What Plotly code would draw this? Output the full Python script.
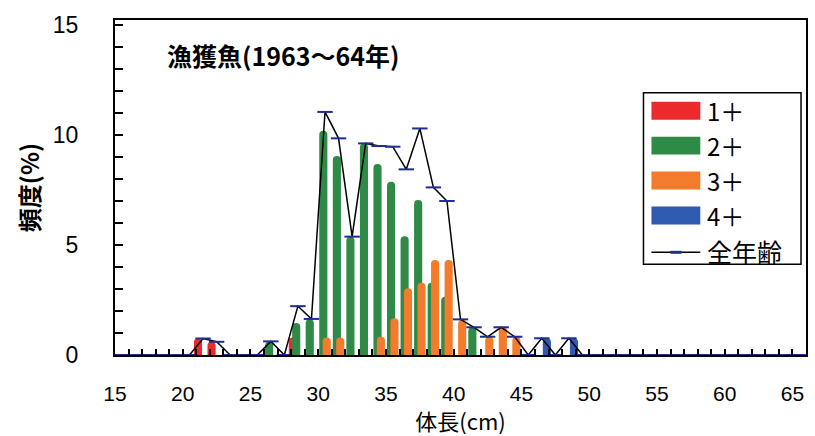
import plotly.graph_objects as go

# Body-length classes (cm); each class covers [n, n+1)
length_cm = list(range(15, 66))

# Frequency (%) per length class, by age group
age_1 = [0, 0, 0, 0, 0, 0, 0.75, 0.6, 0, 0,
         0, 0, 0, 0.8, 0, 0, 0, 0, 0, 0,
         0, 0, 0, 0, 0, 0, 0, 0, 0, 0,
         0, 0, 0, 0, 0, 0, 0, 0, 0, 0,
         0, 0, 0, 0, 0, 0, 0, 0, 0, 0, 0]
age_2 = [0, 0, 0, 0, 0, 0, 0, 0, 0, 0,
         0, 0.6, 0, 1.45, 1.62, 10.2, 9.05, 5.38, 9.62, 8.68,
         7.88, 5.4, 7.05, 3.29, 2.65, 0, 1.26, 0, 0, 0,
         0, 0, 0, 0, 0, 0, 0, 0, 0, 0,
         0, 0, 0, 0, 0, 0, 0, 0, 0, 0, 0]
age_3 = [0, 0, 0, 0, 0, 0, 0, 0, 0, 0,
         0, 0, 0, 0, 0, 0.8, 0.8, 0, 0, 0.83,
         1.67, 3.03, 3.29, 4.32, 4.32, 1.6, 0, 0.83, 1.29, 0.83,
         0, 0, 0, 0, 0, 0, 0, 0, 0, 0,
         0, 0, 0, 0, 0, 0, 0, 0, 0, 0, 0]
age_4 = [0, 0, 0, 0, 0, 0, 0, 0, 0, 0,
         0, 0, 0, 0, 0, 0, 0, 0, 0, 0,
         0, 0, 0, 0, 0, 0, 0, 0, 0, 0,
         0, 0.76, 0, 0.76, 0, 0, 0, 0, 0, 0,
         0, 0, 0, 0, 0, 0, 0, 0, 0, 0, 0]
all_ages = [0, 0, 0, 0, 0, 0, 0.75, 0.6, 0, 0,
            0, 0.62, 0, 2.22, 1.64, 11.05, 9.85, 5.38, 9.62, 9.5,
            9.47, 8.44, 10.3, 7.62, 7.0, 1.62, 1.26, 0.83, 1.26, 0.83,
            0, 0.76, 0, 0.76, 0, 0, 0, 0, 0, 0,
            0, 0, 0, 0, 0, 0, 0, 0, 0, 0, 0]

age_labels = ["1＋", "2＋", "3＋", "4＋"]
total_label = "全年齢"
age_colors = ["#ec2a2c", "#2f8a47", "#f47a2c", "#2e5bb0"]

BAR_W = 0.6
JP_FONT = "Noto Sans CJK JP"
NUM_FONT = "Liberation Sans"

fig = go.Figure()

# Four age groups side by side inside each 1-cm class, overlapping slightly
for k, (vals, label, color) in enumerate(zip([age_1, age_2, age_3, age_4], age_labels, age_colors)):
    centre = 0.125 + 0.25 * k
    fig.add_trace(go.Bar(
        x=length_cm, y=vals, name=label,
        width=BAR_W, offset=centre - BAR_W / 2,
        marker=dict(color=color, line=dict(width=0), cornerradius=4),
        showlegend=False,
    ))

fig.add_trace(go.Scatter(
    x=[n + 0.5 for n in length_cm], y=all_ages, name=total_label,
    mode="lines+markers",
    line=dict(color="black", width=1.5),
    marker=dict(symbol="line-ew", size=11, line=dict(width=2, color="#1f2c96")),
    showlegend=False,
))

# Hand-built legend box in the upper right
PL, PR, PT, PB = 115, 808, 20, 356
W, H = 815, 436

def px_x(v):
    return (v - PL) / (PR - PL)

def px_y(v):
    return (PB - v) / (PB - PT)

shapes = [dict(type="rect", xref="paper", yref="paper",
               x0=px_x(645), x1=px_x(803), y0=px_y(265), y1=px_y(93),
               line=dict(color="black", width=1.5), fillcolor="white", layer="above")]
annotations = []
rows = [111, 146, 181, 216]
for label, color, yc in zip(age_labels, age_colors, rows):
    shapes.append(dict(type="rect", xref="paper", yref="paper",
                       x0=px_x(653), x1=px_x(702), y0=px_y(yc + 9), y1=px_y(yc - 9),
                       line=dict(width=0), fillcolor=color, layer="above"))
    annotations.append(dict(text=label, xref="paper", yref="paper",
                            x=px_x(707), y=px_y(yc), xanchor="left", yanchor="middle",
                            showarrow=False, font=dict(family=JP_FONT, size=24, color="black")))
shapes.append(dict(type="line", xref="paper", yref="paper",
                   x0=px_x(653), x1=px_x(702), y0=px_y(253), y1=px_y(253),
                   line=dict(color="black", width=1.5), layer="above"))
shapes.append(dict(type="line", xref="paper", yref="paper",
                   x0=px_x(672), x1=px_x(683), y0=px_y(253), y1=px_y(253),
                   line=dict(color="#1f2c96", width=3), layer="above"))
annotations.append(dict(text=total_label, xref="paper", yref="paper",
                        x=px_x(707), y=px_y(252), xanchor="left", yanchor="middle",
                        showarrow=False, font=dict(family=JP_FONT, size=25, color="black")))

# Sample description
annotations.append(dict(text="<b>漁獲魚(1963〜64年)</b>", xref="paper", yref="paper",
                        x=px_x(165), y=px_y(55), xanchor="left", yanchor="middle",
                        showarrow=False, font=dict(family=JP_FONT, size=25, color="black")))

axis_common = dict(
    showline=True, linecolor="black", linewidth=2, mirror=True,
    showgrid=False, zeroline=False,
    ticks="inside", tickcolor="black", tickwidth=2,
)

fig.update_layout(
    width=W, height=H,
    margin=dict(l=PL, r=W - PR, t=PT, b=H - PB),
    paper_bgcolor="white", plot_bgcolor="white",
    barmode="overlay",
    xaxis=dict(
        range=[15, 66], tick0=15, dtick=5, ticklen=6,
        minor=dict(dtick=1, ticks="inside", ticklen=6, tickwidth=2, tickcolor="black"),
        tickfont=dict(family=NUM_FONT, size=21, color="black"),
        ticklabelstandoff=19,
        title=dict(text="体長(cm)", font=dict(family=JP_FONT, size=22, color="black"), standoff=8),
        **axis_common,
    ),
    yaxis=dict(
        range=[0, 15.23], tick0=0, dtick=5, ticklen=8,
        minor=dict(dtick=1, ticks="inside", ticklen=8, tickwidth=2, tickcolor="black"),
        tickfont=dict(family=NUM_FONT, size=23, color="black"),
        ticklabelstandoff=30,
        title=dict(text="<b>頻度(%)</b>", font=dict(family=JP_FONT, size=24, color="black"), standoff=6),
        **axis_common,
    ),
    shapes=shapes,
    annotations=annotations,
    showlegend=False,
)

fig.write_html("out.html")
